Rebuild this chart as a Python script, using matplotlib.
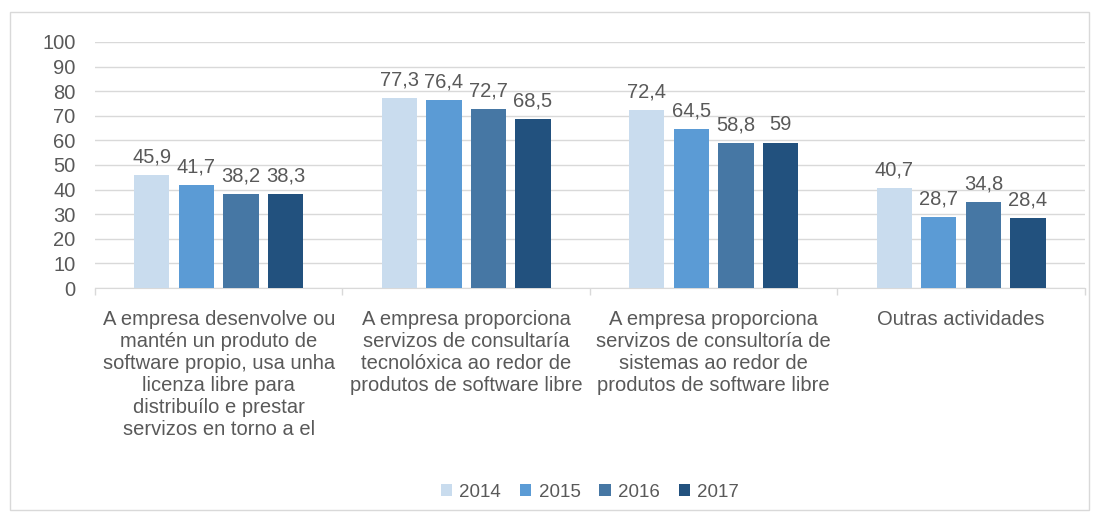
import matplotlib.pyplot as plt
import matplotlib.patches as mpatches
import numpy as np

plt.rcParams['font.family'] = ['Liberation Sans', 'DejaVu Sans']

categories = ['A empresa desenvolve ou\nmantén un produto de\nsoftware propio, usa unha\nlicenza libre para\ndistribuílo e prestar\nservizos en torno a el',
              'A empresa proporciona\nservizos de consultaría\ntecnolóxica ao redor de\nprodutos de software libre',
              'A empresa proporciona\nservizos de consultoría de\nsistemas ao redor de\nprodutos de software libre',
              'Outras actividades']
years = ['2014', '2015', '2016', '2017']
v2014 = [45.9, 77.3, 72.4, 40.7]
v2015 = [41.7, 76.4, 64.5, 28.7]
v2016 = [38.2, 72.7, 58.8, 34.8]
v2017 = [38.3, 68.5, 59, 28.4]
series = [v2014, v2015, v2016, v2017]
colors = ['#C9DCEE', '#5B9BD5', '#4677A4', '#22517E']

txt = '#595959'
fs = 14.5
fig = plt.figure(figsize=(10.98, 5.18), dpi=100)
ax = fig.add_axes([0.0865, 0.444, 0.9016, 0.475])

x = np.arange(len(categories))
w = 0.142
step = 0.18
for i, vals in enumerate(series):
    pos = x + (i - 1.5) * step
    bars = ax.bar(pos, vals, w, color=colors[i], label=years[i], zorder=3)
    for b, v in zip(bars, vals):
        lab = ('%g' % v).replace('.', ',')
        ax.text(b.get_x() + b.get_width() / 2, v + 3.5, lab, ha='center', va='bottom',
                fontsize=fs, color=txt)

ax.set_xlim(-0.5, 3.5)
ax.set_ylim(0, 100)
ax.set_yticks(range(0, 101, 10))
ax.yaxis.grid(True, color='#D9D9D9', lw=1, zorder=0)
ax.tick_params(axis='y', length=0, labelsize=fs, labelcolor=txt, pad=14)
ax.set_xticks(x)
ax.set_xticklabels(categories, fontsize=fs, color=txt, va='top')
for t in ax.get_xticklabels():
    t.set_linespacing(1.2)
ax.tick_params(axis='x', length=0, pad=16)
ax.set_xticks(np.arange(-0.5, 4, 1), minor=True)
ax.tick_params(axis='x', which='minor', length=5, color='#D9D9D9', width=1)
for s in ['top', 'right', 'left']:
    ax.spines[s].set_visible(False)
ax.spines['bottom'].set_color('#D9D9D9')

ax.legend(loc='center', bbox_to_anchor=(0.5, -0.83), ncol=4, frameon=False,
          fontsize=13.5, labelcolor=txt, handlelength=0.6, handleheight=0.6,
          handletextpad=0.4, columnspacing=1.0)

fig.patches.append(mpatches.Rectangle((0.009, 0.015), 0.983, 0.962, transform=fig.transFigure,
                                      fill=False, edgecolor='#D9D9D9', lw=1))

fig.savefig('out.png', dpi=100)
